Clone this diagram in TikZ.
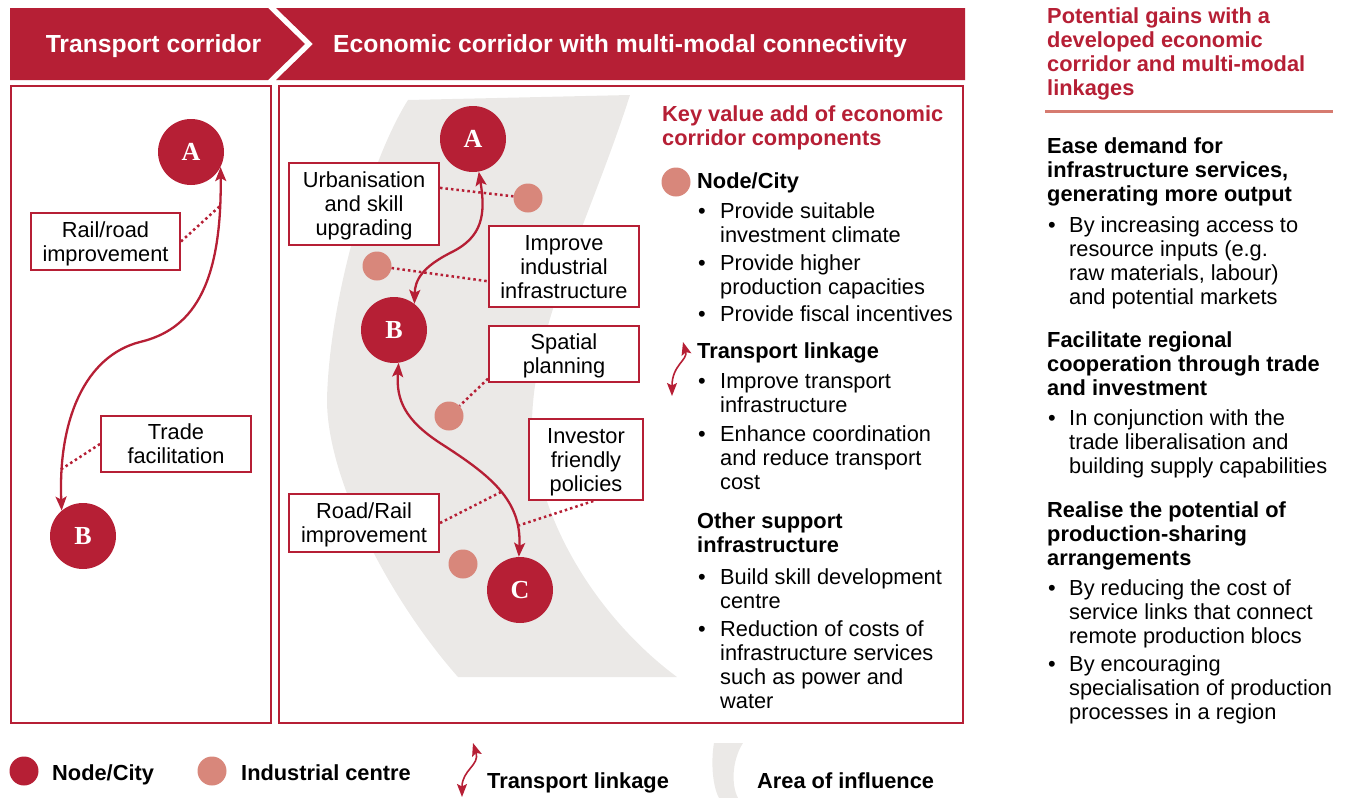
\documentclass[tikz,border=0pt]{standalone}
\usepackage{fontspec}
\setmainfont{Liberation Sans}
\newfontfamily\lettfont{Liberation Serif}
\usetikzlibrary{arrows.meta}
\definecolor{dred}{HTML}{B61F35}
\definecolor{salm}{HTML}{D8877B}
\definecolor{infl}{HTML}{EBE9E7}
\definecolor{rulec}{HTML}{D67B70}
\begin{document}
\begin{tikzpicture}[x=1pt,y=-1pt,
  txt/.style={font=\fontsize{21.8}{24}\selectfont, inner sep=0pt, anchor=base west, align=left},
  btxt/.style={txt, font=\fontsize{21.8}{24}\selectfont\bfseries},
  rtxt/.style={btxt, text=dred},
  htxt/.style={inner sep=0pt, text=white, font=\fontsize{24.7}{28}\selectfont\bfseries},
  city/.style={circle, fill=dred, minimum size=66pt, inner sep=0pt, text=white, font=\lettfont\bfseries\fontsize{26}{26}\selectfont},
  ind/.style={circle, fill=salm, minimum size=29pt, inner sep=0pt},
  lbox/.style={draw=dred, line width=2pt, fill=white, align=center, inner sep=0pt, text depth=0pt, font=\fontsize{21.8}{24}\selectfont},
  link/.style={draw=dred, line width=2.3pt, {Stealth[length=14pt,width=11pt,inset=3pt]}-{Stealth[length=14pt,width=11pt,inset=3pt]}},
  slink/.style={draw=dred, line width=1.6pt, {Stealth[length=13pt,width=10pt,inset=2.5pt]}-{Stealth[length=13pt,width=10pt,inset=2.5pt]}},
  dotln/.style={draw=dred, line width=2.5pt, dash pattern=on 2.5pt off 3pt},
  panel/.style={draw=dred, line width=2.5pt}
]
\useasboundingbox (0,0) rectangle (1345,798);

% ---------- header ----------
\fill[dred] (10,8) -- (268,8) -- (305,44) -- (268,80) -- (10,80) -- cycle;
\fill[dred] (276,8) -- (965,8) -- (965,80) -- (276,80) -- (313,44) -- cycle;
\node[htxt, anchor=base] (h1) at (153.5,52) {Transport corridor};
\node[htxt, anchor=base west] (h2) at (333,52) {Economic corridor with multi-modal connectivity};

% ---------- area of influence ----------
\fill[infl] (408,100) -- (630,95) .. controls (590,220) and (535,320) .. (532,420)
  .. controls (534,520) and (600,620) .. (677,677) -- (458,677)
  .. controls (390,600) and (327,480) .. (327,400)
  .. controls (329,300) and (370,160) .. (408,100) -- cycle;

% ---------- panels ----------
\draw[panel] (11,86) rectangle (271,723);
\draw[panel] (279,86) rectangle (963,723);

% ---------- left panel ----------
\node[city] (lA) at (191,152) {A};
\node[city] (lB) at (83,536) {B};
\node[lbox, minimum width=149pt, minimum height=57pt] (rr) at (105.5,241.5) {Rail/road\\improvement};
\node[lbox, minimum width=150pt, minimum height=56pt] (tf) at (176,444) {Trade\\facilitation};
\coordinate (c1) at (220,206);
\coordinate (c2) at (60,470);
\draw[link] (lA.-27) .. controls (222,290) and (190,330) .. (140,342)
  .. controls (85,356) and (58,420) .. (lB.130);
\draw[dotln] (rr.east) -- (c1);
\draw[dotln] (tf.west) -- (c2);

% ---------- middle panel ----------
\node[city] (mA) at (473,139) {A};
\node[city] (mB) at (394,330) {B};
\node[city] (mC) at (520,590) {C};
\node[ind] (i1) at (528,198) {};
\node[ind] (i2) at (377,266) {};
\node[ind] (i3) at (449,416) {};
\node[ind] (i4) at (463,564) {};
\node[lbox, minimum width=150pt, minimum height=82pt] (ub) at (364,204) {Urbanisation\\and skill\\upgrading};
\node[lbox, minimum width=150pt, minimum height=81pt] (ii) at (564,266.5) {Improve\\industrial\\infrastructure};
\node[lbox, minimum width=150pt, minimum height=56pt] (sp) at (564,354) {Spatial\\planning};
\node[lbox, minimum width=114pt, minimum height=81pt] (inv) at (586,459.5) {Investor\\friendly\\policies};
\node[lbox, minimum width=150pt, minimum height=58pt] (rrl) at (364,523) {Road/Rail\\improvement};
\coordinate (c3) at (501,492);
\coordinate (c4) at (517,526);
\draw[dotln] (ub.12) -- (i1);
\draw[dotln] (i2) -- (ii.191);
\draw[dotln] (sp.198) -- (i3);
\draw[dotln] (rrl.east) -- (c3);
\draw[dotln] (inv.-80) -- (c4);
\draw[link] (mA.-80) .. controls (486,215) and (482,237) .. (452,252)
  .. controls (422,267) and (415,280) .. (mB.52);
\draw[link] (mB.-82) .. controls (396,400) and (405,420) .. (440,443)
  .. controls (490,475) and (522,500) .. (mC.92);

% ---------- key value add text (base = last line) ----------
\node[rtxt] (kh) at (662,145) {Key value add of economic\\corridor components};
\node[ind] (kn) at (676,182) {};
\node[btxt] (k1) at (697,188) {Node/City};
\node[txt] (b1) at (698,218) {•};
\node[txt] (t1) at (720,242) {Provide suitable\\investment climate};
\node[txt] (b2) at (698,270) {•};
\node[txt] (t2) at (720,294) {Provide higher\\production capacities};
\node[txt] (b3) at (698,321) {•};
\node[txt] (t3) at (720,321) {Provide fiscal incentives};
\coordinate (ka) at (683,342);
\coordinate (kb) at (672,396);
\draw[slink] (ka) .. controls (688,360) and (672,365) .. (kb);
\node[btxt] (k2) at (697,358) {Transport linkage};
\node[txt] (b4) at (698,388) {•};
\node[txt] (t4) at (720,412) {Improve transport\\infrastructure};
\node[txt] (b5) at (698,441) {•};
\node[txt] (t5) at (720,489) {Enhance coordination\\and reduce transport\\cost};
\node[btxt] (k3) at (697,552) {Other support\\infrastructure};
\node[txt] (b6) at (698,584) {•};
\node[txt] (t6) at (720,608) {Build skill development\\centre};
\node[txt] (b7) at (698,636) {•};
\node[txt] (t7) at (720,708) {Reduction of costs of\\infrastructure services\\such as power and\\water};

% ---------- right column ----------
\node[rtxt] (g0) at (1047,95) {Potential gains with a\\developed economic\\corridor and multi-modal\\linkages};
\draw[rulec, line width=3pt] (1045,111) -- (1333,111);
\node[btxt] (g1) at (1047,201) {Ease demand for\\infrastructure services,\\generating more output};
\node[txt] (gb1) at (1048,232) {•};
\node[txt] (gt1) at (1069,304) {By increasing access to\\resource inputs (e.g.\\raw materials, labour)\\and potential markets};
\node[btxt] (g2) at (1047,395) {Facilitate regional\\cooperation through trade\\and investment};
\node[txt] (gb2) at (1048,425) {•};
\node[txt] (gt2) at (1069,473) {In conjunction with the\\trade liberalisation and\\building supply capabilities};
\node[btxt] (g3) at (1047,565) {Realise the potential of\\production-sharing\\arrangements};
\node[txt] (gb3) at (1048,595) {•};
\node[txt] (gt3) at (1069,643) {By reducing the cost of\\service links that connect\\remote production blocs};
\node[txt] (gb4) at (1048,671) {•};
\node[txt] (gt4) at (1069,719) {By encouraging\\specialisation of production\\processes in a region};

% ---------- legend ----------
\node[circle, fill=dred, minimum size=29pt, inner sep=0pt] (lg1) at (24,771) {};
\node[btxt] (lt1) at (52,780) {Node/City};
\node[ind] (lg2) at (212,771) {};
\node[btxt] (lt2) at (241,780) {Industrial centre};
\coordinate (la) at (473,743);
\coordinate (lb) at (462,797);
\draw[slink] (la) .. controls (480,765) and (462,770) .. (lb);
\node[btxt] (lt3) at (487,788) {Transport linkage};
\fill[infl] (714,743) -- (743,743) .. controls (732,760) and (731,785) .. (738,798)
  -- (719,798) .. controls (712,785) and (711,760) .. (714,743) -- cycle;
\node[btxt] (lt4) at (757,788) {Area of influence};
\end{tikzpicture}
\end{document}
